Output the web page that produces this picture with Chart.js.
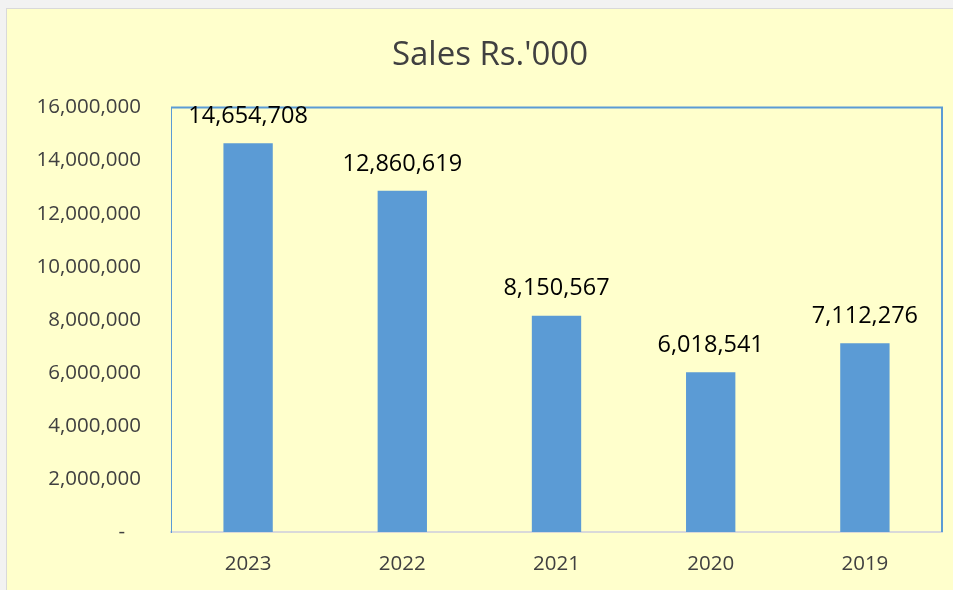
<!DOCTYPE html>
<html>
<head>
<meta charset="utf-8">
<script src="https://cdn.jsdelivr.net/npm/chart.js@4"></script>
<style>
    body { margin: 0; background: #f2f2f2; }
    #box {
        position: absolute; left: 6px; top: 8px; width: 947px; height: 582px;
        background: #ffffcc; border-left: 1px solid #d9d9d9; border-top: 1px solid #d9d9d9;
        box-sizing: border-box;
    }
    #myChart { position: absolute; left: 0; top: 0; }
</style>
</head>
<body>
<div id="box"><canvas id="myChart" width="946" height="581"></canvas></div>
<script>
var years = ["2023", "2022", "2021", "2020", "2019"];
var sales = [14654708, 12860619, 8150567, 6018541, 7112276];
var yTicksMax = 16000000;
var yTicksStep = 2000000;

var fontName = "'Open Sans', 'Noto Sans', sans-serif";

function fmt(v) {
    return v.toLocaleString("en-US");
}

// top and right edge of the plot area
var plotFrame = {
    id: "plotFrame",
    afterDraw: function(chart) {
        var a = chart.chartArea;
        var ctx = chart.ctx;
        ctx.save();
        ctx.strokeStyle = "#5b9bd5";
        ctx.lineWidth = 2;
        ctx.beginPath();
        ctx.moveTo(a.left, a.top);
        ctx.lineTo(a.right, a.top);
        ctx.lineTo(a.right, a.bottom);
        ctx.stroke();
        ctx.restore();
    }
};

// labels on top of each bar
var barLabels = {
    id: "barLabels",
    afterDraw: function(chart) {
        var ctx = chart.ctx;
        var meta = chart.getDatasetMeta(0);
        ctx.save();
        ctx.font = "23.5px " + fontName;
        ctx.fillStyle = "#000";
        ctx.textAlign = "center";
        ctx.textBaseline = "middle";
        meta.data.forEach(function(bar, i) {
            ctx.fillText(fmt(sales[i]), bar.x, bar.y - 27);
        });
        ctx.restore();
    }
};

var ctx = document.getElementById("myChart").getContext("2d");
var myChart = new Chart(ctx, {
    type: "bar",
    data: {
        labels: years,
        datasets: [{
            data: sales,
            backgroundColor: "#5b9bd5",
            categoryPercentage: 1,
            barPercentage: 0.32
        }]
    },
    options: {
        responsive: false,
        animation: false,
        layout: { padding: { left: 31, right: 11, top: 0, bottom: 0 } },
        plugins: {
            legend: { display: false },
            tooltip: { enabled: false },
            title: {
                display: true,
                text: "Sales Rs.'000",
                color: "#404040",
                font: { family: fontName, size: 33, weight: "normal" },
                padding: { top: 27, bottom: 32 }
            }
        },
        scales: {
            x: {
                grid: { display: false, drawTicks: false },
                border: { color: "#d9d9d9", width: 2 },
                ticks: {
                    color: "#404040",
                    font: { family: fontName, size: 20.5 },
                    padding: 20
                },
                afterFit: function(s) { s.height = 58; }
            },
            y: {
                min: 0,
                max: yTicksMax,
                grid: { display: false, drawTicks: false },
                border: { color: "#5b9bd5", width: 1 },
                ticks: {
                    stepSize: yTicksStep,
                    color: "#404040",
                    font: { family: fontName, size: 20.5 },
                    padding: 30,
                    callback: function(v) { return v == 0 ? "-   " : fmt(v); }
                },
                afterFit: function(s) { s.width = 133; }
            }
        }
    },
    plugins: [plotFrame, barLabels]
});
</script>
</body>
</html>
